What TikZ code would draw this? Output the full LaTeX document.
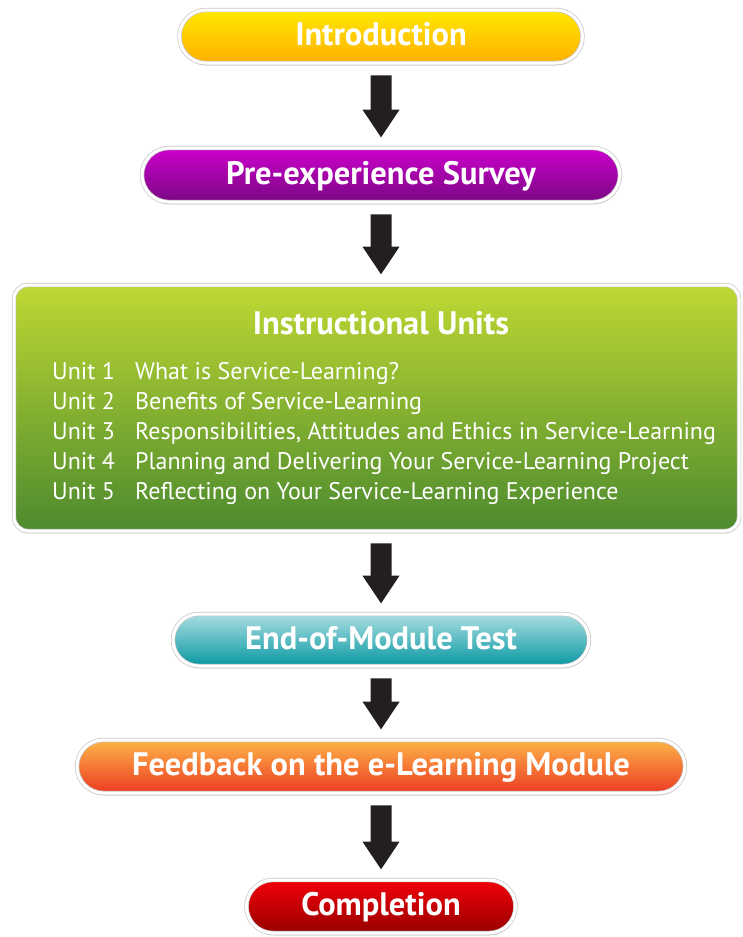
\documentclass[tikz,border=0pt]{standalone}
\usepackage{fontspec}
\setmainfont{PT Sans}
\usepackage{tikz}
\usetikzlibrary{shapes.misc,arrows.meta,shadows}
\definecolor{introtop}{HTML}{FFE800}
\definecolor{introbot}{HTML}{FFB000}
\definecolor{surveytop}{HTML}{CC00CC}
\definecolor{surveybot}{HTML}{7A0884}
\definecolor{unitstop}{HTML}{BFD833}
\definecolor{unitsbot}{HTML}{4C8A2E}
\definecolor{testtop}{HTML}{AADEE2}
\definecolor{testbot}{HTML}{0898A2}
\definecolor{feedtop}{HTML}{FDB548}
\definecolor{feedbot}{HTML}{EC3A22}
\definecolor{donetop}{HTML}{F2000A}
\definecolor{donebot}{HTML}{980000}
\definecolor{arrowdark}{HTML}{231F20}

\begin{document}
\begin{tikzpicture}[x=1pt,y=-1pt,
	box/.style={draw=gray!45, double=white, double distance=3pt, line width=0.7pt,
		drop shadow={shadow xshift=0.5pt,shadow yshift=-2.5pt,opacity=0.3},
		text=white, font=\bfseries\fontsize{32.5}{38}\selectfont,
		text height=18pt, text depth=0pt, inner sep=0pt},
	pill/.style={box, rounded rectangle},
	blockarrow/.style={line width=21pt, draw=arrowdark, -{Triangle[width=35pt,length=28pt]},
		shorten <=12pt, shorten >=10pt},
	unittxt/.style={text=white, anchor=base west, inner sep=0pt,
		font=\fontsize{24}{28}\selectfont}]
	\useasboundingbox[fill=white] (0,0) rectangle (743,937);
	
	% the steps
	\node[pill, top color=introtop, bottom color=introbot, minimum width=403pt, minimum height=53pt] (intro) at (381,36.5) {Introduction};
	\node[pill, top color=surveytop, bottom color=surveybot, minimum width=478pt, minimum height=54pt] (survey) at (381,175) {Pre-experience Survey};
	\node[box, rounded corners=14pt, top color=unitstop, bottom color=unitsbot, minimum width=725pt, minimum height=246pt] (units) at (376.5,408) {};
	\node[pill, top color=testtop, bottom color=testbot, minimum width=416pt, minimum height=52pt] (test) at (381,640) {End-of-Module Test};
	\node[pill, top color=feedtop, bottom color=feedbot, minimum width=608pt, minimum height=53pt] (feedback) at (381,766.5) {Feedback on the e-Learning Module};
	\node[pill, top color=donetop, bottom color=donebot, minimum width=269pt, minimum height=53pt] (done) at (381,906.5) {Completion};
	
	% text of the units box
	\node[text=white, anchor=base, inner sep=0pt, font=\bfseries\fontsize{32.5}{38}\selectfont] (unitstitle) at (381,334) {Instructional Units};
	\node[unittxt] (u1) at (52,379) {Unit 1};
	\node[unittxt] (t1) at (135,379) {What is Service-Learning?};
	\node[unittxt] (u2) at (52,409) {Unit 2};
	\node[unittxt] (t2) at (135,409) {Benefits of Service-Learning};
	\node[unittxt] (u3) at (52,439) {Unit 3};
	\node[unittxt] (t3) at (135,439) {Responsibilities, Attitudes and Ethics in Service-Learning};
	\node[unittxt] (u4) at (52,469) {Unit 4};
	\node[unittxt] (t4) at (135,469) {Planning and Delivering Your Service-Learning Project};
	\node[unittxt] (u5) at (52,499) {Unit 5};
	\node[unittxt] (t5) at (135,499) {Reflecting on Your Service-Learning Experience};
	
	% arrows
	\draw[blockarrow] (intro) -- (survey);
	\draw[blockarrow] (survey) -- (survey |- units.north);
	\draw[blockarrow] (units.south -| test) -- (test);
	\draw[blockarrow] (test) -- (feedback);
	\draw[blockarrow] (feedback) -- (done);
\end{tikzpicture}
\end{document}
